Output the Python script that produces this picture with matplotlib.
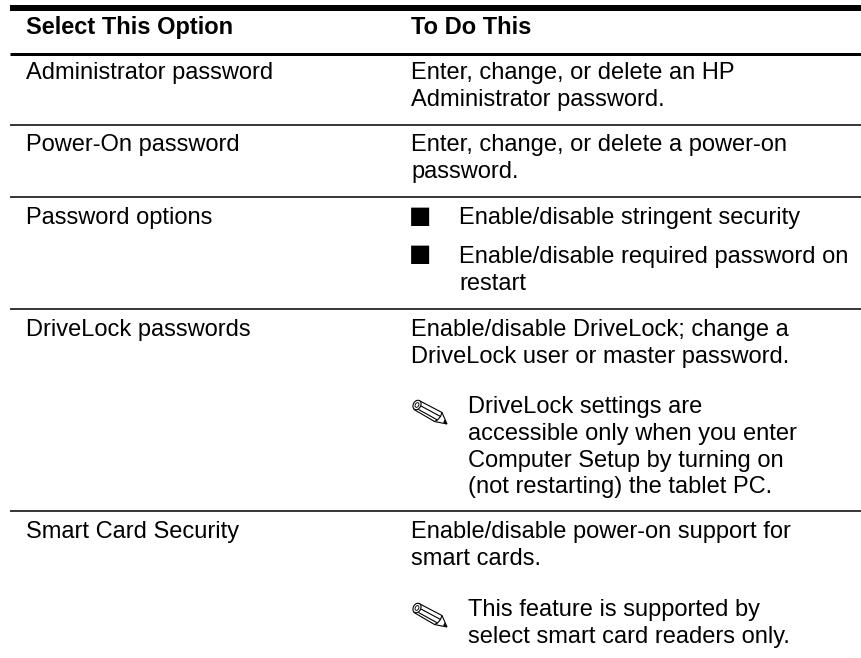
import matplotlib
matplotlib.use("Agg")
import matplotlib.pyplot as plt
from matplotlib.patches import Ellipse, Polygon

W, H = 862, 658
FONT = "Liberation Sans"
SIZE = 17.0

header_labels = ["Select This Option", "To Do This"]
options = ["Administrator password", "Power-On password", "Password options",
           "DriveLock passwords", "Smart Card Security"]
option_baselines = [79, 151, 224, 336, 538]

plain_lines = ["Enter, change, or delete an HP", "Administrator password.",
               "Enter, change, or delete a power-on", "password.",
               "Enable/disable DriveLock; change a", "DriveLock user or master password.",
               "Enable/disable power-on support for", "smart cards."]
plain_baselines = [79, 106, 151, 178, 336, 363, 538, 565]

bullet_lines = ["Enable/disable stringent security", "Enable/disable required password on", "restart"]
bullet_baselines = [224, 263, 290]
bullet_marks = [222.5, 260.5]

note_lines = ["DriveLock settings are", "accessible only when you enter",
              "Computer Setup by turning on", "(not restarting) the tablet PC.",
              "This feature is supported by", "select smart card readers only."]
note_baselines = [413, 440, 467, 493, 616, 643]
note_marks = [400, 603]

thick_rules = [(8, 6.0), (53.5, 3.0)]
thin_rules = [125, 197, 309, 511]

fig = plt.figure(figsize=(W / 100, H / 100), dpi=100, facecolor="white")
ax = fig.add_axes([0, 0, 1, 1])
ax.set_xlim(0, W)
ax.set_ylim(H, 0)
ax.axis("off")

def put(x, y, s, **kw):
    kw.setdefault("family", FONT)
    kw.setdefault("fontsize", SIZE)
    ax.text(x, y, s, ha="left", va="baseline", color="black", **kw)

def pencil(x0, y0):
    lw = 0.8
    body = [(6, 0.5), (29, 12.5), (34, 24), (21.5, 21.5), (1, 9.5)]
    ax.add_patch(Polygon([(x0 + a, y0 + b) for a, b in body], closed=True,
                         facecolor="white", edgecolor="black", lw=lw, joinstyle="miter"))
    ax.add_patch(Ellipse((x0 + 4, y0 + 5), 7.5, 10, angle=28, facecolor="white",
                         edgecolor="black", lw=lw))
    ax.add_patch(Ellipse((x0 + 4, y0 + 5), 3.5, 5, angle=28, facecolor="white",
                         edgecolor="black", lw=lw * 0.8))
    for seg in ([(8, 6), (27.5, 16.5)], [(5.5, 9.5), (24.5, 20)],
                [(29, 12.5), (27.5, 16.5), (24.5, 20), (21.5, 21.5)]):
        ax.plot([x0 + a for a, b in seg], [y0 + b for a, b in seg], color="black",
                lw=lw, solid_capstyle="butt")
    ax.add_patch(Polygon([(x0 + a, y0 + b) for a, b in [(34, 24), (30.5, 22.5), (31.5, 20)]],
                         closed=True, facecolor="black", edgecolor="black", lw=0.3))

for y, lw in thick_rules:
    ax.plot([10, W], [y, y], color="black", lw=lw * 0.72, solid_capstyle="butt")
for y in thin_rules:
    ax.plot([10, W], [y, y], color="black", lw=1.1, solid_capstyle="butt")

put(26, 34, header_labels[0], fontweight="bold")
put(411, 34, header_labels[1], fontweight="bold")
for s, y in zip(options, option_baselines):
    put(26, y, s)
for s, y in zip(plain_lines, plain_baselines):
    put(411, y, s)
for s, y in zip(bullet_lines, bullet_baselines):
    put(459, y, s)
for y in bullet_marks:
    put(409, y, "\u25a0", family="DejaVu Sans", fontsize=17)
for s, y in zip(note_lines, note_baselines):
    put(468, y, s)
for y in note_marks:
    pencil(413, y)

fig.savefig("out.png", dpi=100, facecolor="white")
